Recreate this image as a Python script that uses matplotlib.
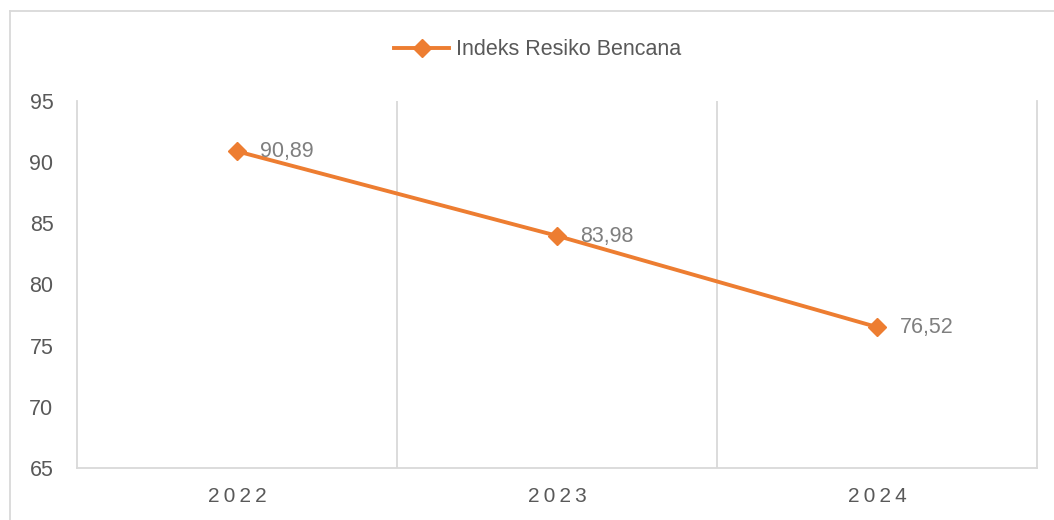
import matplotlib
matplotlib.use('Agg')
import matplotlib.pyplot as plt
from matplotlib.lines import Line2D

years = ['2022', '2023', '2024']
indeks = [90.89, 83.98, 76.52]
labels = ['90,89', '83,98', '76,52']
yticks = [65, 70, 75, 80, 85, 90, 95]

plt.rcParams['font.family'] = ['Liberation Sans', 'DejaVu Sans']

orange = '#ED7D31'
grid_c = '#D9D9D9'
txt_c = '#595959'
fs = 15.5

fig = plt.figure(figsize=(10.54, 5.2), dpi=100)
ax = fig.add_axes([77/1054, 1-468/520, 960/1054, 367/520])

x = list(range(len(years)))
ax.plot(x, indeks, color=orange, lw=2.8, marker='D', ms=9, zorder=3)
for xi, v, s in zip(x, indeks, labels):
    ax.annotate(s, (xi, v), xytext=(16.5, -0.5), textcoords='offset points',
                va='center', ha='left', fontsize=fs, color='#7F7F7F', zorder=4)

ax.set_xlim(-0.5, 2.5)
ax.set_ylim(65, 95)
ax.set_yticks(yticks)
ax.set_xticks(x)
ax.set_xticklabels(['\u2009'.join(y) for y in years])
ax.tick_params(axis='y', length=0, pad=17, labelsize=fs, labelcolor=txt_c)
ax.tick_params(axis='x', length=0, pad=14, labelsize=15, labelcolor=txt_c)

for xv in [0.5, 1.5]:
    ax.axvline(xv, color=grid_c, lw=1.3, zorder=1)
ax.spines['top'].set_visible(False)
for s in ['left', 'bottom', 'right']:
    ax.spines[s].set_color(grid_c)
    ax.spines[s].set_linewidth(1.3)

# outer chart frame (cropped on the right and bottom)
fig.add_artist(Line2D([9.5/1054, 1], [1-11/520, 1-11/520], color=grid_c, lw=1.3))
fig.add_artist(Line2D([9.5/1054, 9.5/1054], [0, 1-11/520], color=grid_c, lw=1.3))

h = Line2D([], [], color=orange, lw=2.8, marker='D', ms=9)
fig.legend([h], ['Indeks Resiko Bencana'], loc='center', bbox_to_anchor=(0.51, 0.904),
           frameon=False, fontsize=fs, labelcolor=txt_c, handlelength=2.56,
           handletextpad=0.3)

fig.savefig('out.png', dpi=100)
